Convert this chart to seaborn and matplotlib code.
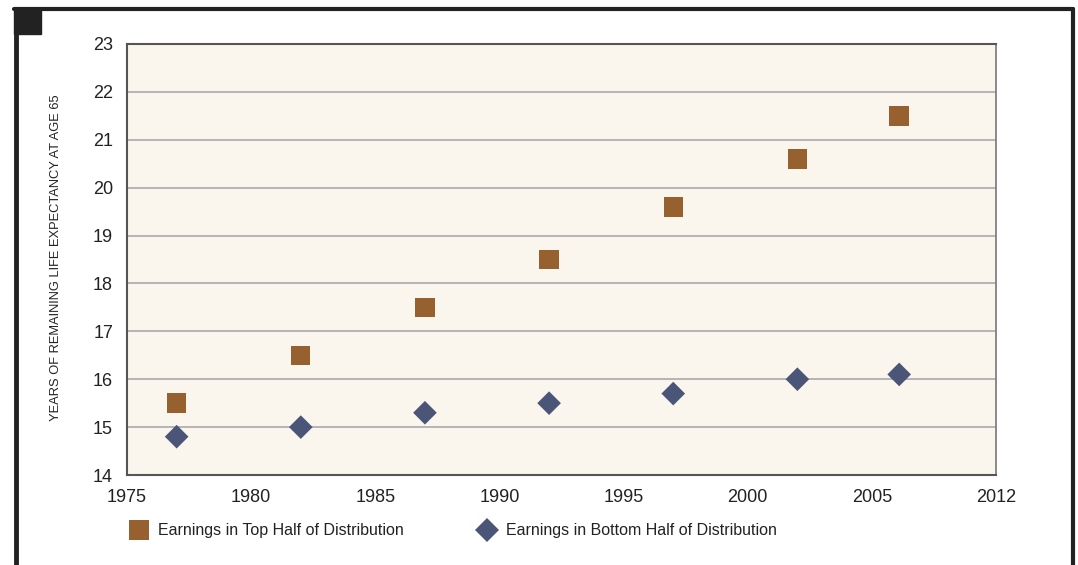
import matplotlib.pyplot as plt
from matplotlib.patches import Rectangle
from matplotlib.lines import Line2D
import seaborn as sns
import pandas as pd

# data
years = [1977, 1982, 1987, 1992, 1997, 2002, 2006.1]
top_half = [15.5, 16.5, 17.5, 18.5, 19.6, 20.6, 21.5]
bottom_half = [14.8, 15.0, 15.3, 15.5, 15.7, 16.0, 16.1]
x_ticks = [1975, 1980, 1985, 1990, 1995, 2000, 2005, 2010]
x_tick_labels = ['1975', '1980', '1985', '1990', '1995', '2000', '2005', '2012']
top_name = 'Earnings in Top Half of Distribution'
bottom_name = 'Earnings in Bottom Half of Distribution'

df = pd.DataFrame({
    'year': years + years,
    'value': top_half + bottom_half,
    'series': [top_name] * len(years) + [bottom_name] * len(years),
})

sns.set_style('white')
plt.rcParams['font.family'] = ['Liberation Sans', 'DejaVu Sans']

fig = plt.figure(figsize=(10.78, 5.65), dpi=100)
ax = fig.add_axes([127 / 1078, 1 - 475 / 565, (996 - 127) / 1078, (475 - 44) / 565])
ax.set_facecolor('#faf6ee')

brown = '#96602f'
navy = '#4a5578'
sub_top = df[df.series == top_name]
sub_bot = df[df.series == bottom_name]
sns.scatterplot(data=sub_top, x='year', y='value', marker='s', s=195, color=brown,
                edgecolor='none', linewidth=0, ax=ax, zorder=3)
sns.scatterplot(data=sub_bot, x='year', y='value', marker='D', s=145, color=navy,
                edgecolor='none', linewidth=0, ax=ax, zorder=3)

ax.set_xlim(1975, 2010)
ax.set_ylim(14, 23)
ax.set_xticks(x_ticks)
ax.set_xticklabels(x_tick_labels)
ax.set_yticks(range(14, 24))
ax.tick_params(axis='both', labelsize=13, colors='#222222')
ax.tick_params(axis='y', length=4, width=1, color='#555555', pad=6)
ax.tick_params(axis='x', length=0, pad=10)
ax.grid(axis='y', color='#aaaaaa', linewidth=1.2)
ax.set_axisbelow(True)
for side in ['left', 'bottom', 'top']:
    ax.spines[side].set_color('#555555')
    ax.spines[side].set_linewidth(1.5)
ax.spines['right'].set_color('#777777')
ax.spines['right'].set_linewidth(1.2)
ax.set_xlabel('')
ax.set_ylabel('')

fig.text(56 / 1078, 1 - 258 / 565, 'YEARS OF REMAINING LIFE EXPECTANCY AT AGE 65',
         rotation=90, ha='center', va='center', fontsize=9.3, color='#222222')

handles = [
    Line2D([], [], marker='s', linestyle='none', markersize=14, color=brown, markeredgewidth=0),
    Line2D([], [], marker='D', linestyle='none', markersize=12, color=navy, markeredgewidth=0),
]
fig.legend(handles, [top_name, bottom_name], loc='center left',
           bbox_to_anchor=(115 / 1078, 1 - 531 / 565), ncol=2, frameon=False,
           fontsize=11.5, handletextpad=0.6, columnspacing=4.6, handlelength=1.2,
           labelcolor='#222222')

# page frame and corner block
fig.add_artist(Line2D([14 / 1078, 1073 / 1078], [1 - 9 / 565, 1 - 9 / 565],
                      transform=fig.transFigure, color='#222222', linewidth=3))
fig.add_artist(Line2D([16 / 1078, 16 / 1078], [1 - 9 / 565, 0],
                      transform=fig.transFigure, color='#222222', linewidth=3.5))
fig.add_artist(Line2D([1073 / 1078, 1073 / 1078], [1 - 9 / 565, 0],
                      transform=fig.transFigure, color='#222222', linewidth=3))
fig.add_artist(Rectangle((14 / 1078, 1 - 34 / 565), 27 / 1078, 25 / 565,
                         transform=fig.transFigure, color='#222222'))

fig.savefig('out.png', dpi=100)
